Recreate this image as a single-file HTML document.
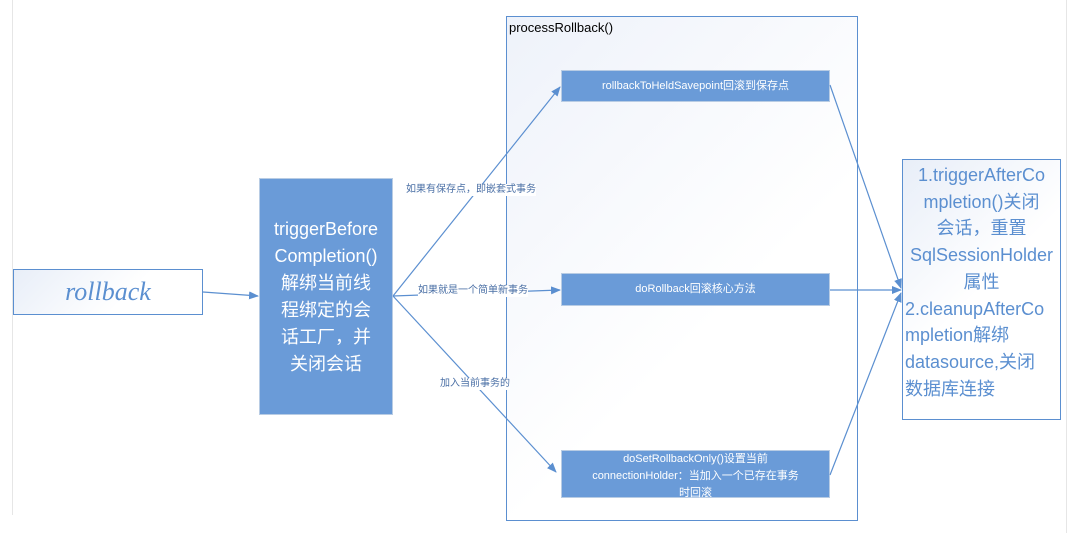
<!DOCTYPE html>
<html><head><meta charset="utf-8"><style>
body{margin:0;width:1070px;height:533px;background:#fff;position:relative;overflow:hidden;font-family:"Liberation Sans","Noto Sans CJK SC",sans-serif}
.a{position:absolute;box-sizing:border-box}
.blue{background:#6a9bd8;border:1px solid #b8cce4;color:#fff;text-align:center}
.lbl{position:absolute;font-size:10px;color:#4a6fa5;background:#fff;white-space:nowrap;line-height:12px}
</style></head><body>
<div class="a" style="left:12px;top:0;width:1px;height:515px;background:#e6e6e6"></div>
<div class="a" style="left:1066px;top:0;width:1px;height:533px;background:#e6e6e6"></div>
<div class="a" style="left:506px;top:16px;width:352px;height:505px;border:1px solid #5b8fd0;background:linear-gradient(135deg,#eef2fa,#fff 60%)"></div>
<div class="a" style="left:509px;top:20px;font-size:13px;color:#000">processRollback()</div>
<div class="a" style="left:13px;top:269px;width:190px;height:46px;border:1px solid #5b8fd0;background:linear-gradient(135deg,#e8eef8,#fff 60%);text-align:center;line-height:44px;font-family:'Liberation Serif',serif;font-style:italic;font-size:26px;color:#5b8fd0">rollback</div>
<div class="a blue" style="left:259px;top:178px;width:134px;height:237px;font-size:18px;line-height:27px;padding-top:37px">triggerBefore<br>Completion()<br>解绑当前线<br>程绑定的会<br>话工厂，并<br>关闭会话</div>
<div class="a blue" style="left:561px;top:70px;width:269px;height:32px;font-size:11px;line-height:30px">rollbackToHeldSavepoint回滚到保存点</div>
<div class="a blue" style="left:561px;top:273px;width:269px;height:33px;font-size:11px;line-height:31px">doRollback回滚核心方法</div>
<div class="a blue" style="left:561px;top:450px;width:269px;height:48px;font-size:11px;line-height:17px;padding-top:-1px">doSetRollbackOnly()设置当前<br>connectionHolder：当加入一个已存在事务<br>时回滚</div>
<div class="a" style="left:902px;top:159px;width:159px;height:261px;border:1px solid #5b8fd0;background:linear-gradient(135deg,#e8eef8,#fff 50%);color:#5b8fd0;font-size:18px;line-height:26.7px;padding-top:2px">
<div style="text-align:center">1.triggerAfterCo<br>mpletion()关闭<br>会话，重置<br>SqlSessionHolder<br>属性</div>
<div style="padding-left:2px">2.cleanupAfterCo<br>mpletion解绑<br>datasource,关闭<br>数据库连接</div></div>
<svg class="a" style="left:0;top:0" width="1070" height="533">
<defs><marker id="m" markerWidth="10" markerHeight="8" refX="9" refY="4" orient="auto" markerUnits="userSpaceOnUse"><path d="M0,0 L10,4 L0,8z" fill="#5b8fd0"/></marker></defs>
<g stroke="#5b8fd0" stroke-width="1.2" fill="none" marker-end="url(#m)">
<line x1="203" y1="292" x2="258" y2="296"/>
<line x1="393" y1="296" x2="560" y2="87"/>
<line x1="393" y1="296" x2="560" y2="290"/>
<line x1="393" y1="296" x2="556" y2="472"/>
<line x1="830" y1="85" x2="901" y2="288"/>
<line x1="830" y1="290" x2="901" y2="290"/>
<line x1="830" y1="475" x2="901" y2="293"/>
</g></svg>
<div class="lbl" style="left:406px;top:184px">如果有保存点，即嵌套式事务</div>
<div class="lbl" style="left:418px;top:285px">如果就是一个简单新事务</div>
<div class="lbl" style="left:440px;top:378px">加入当前事务的</div>
</body></html>
